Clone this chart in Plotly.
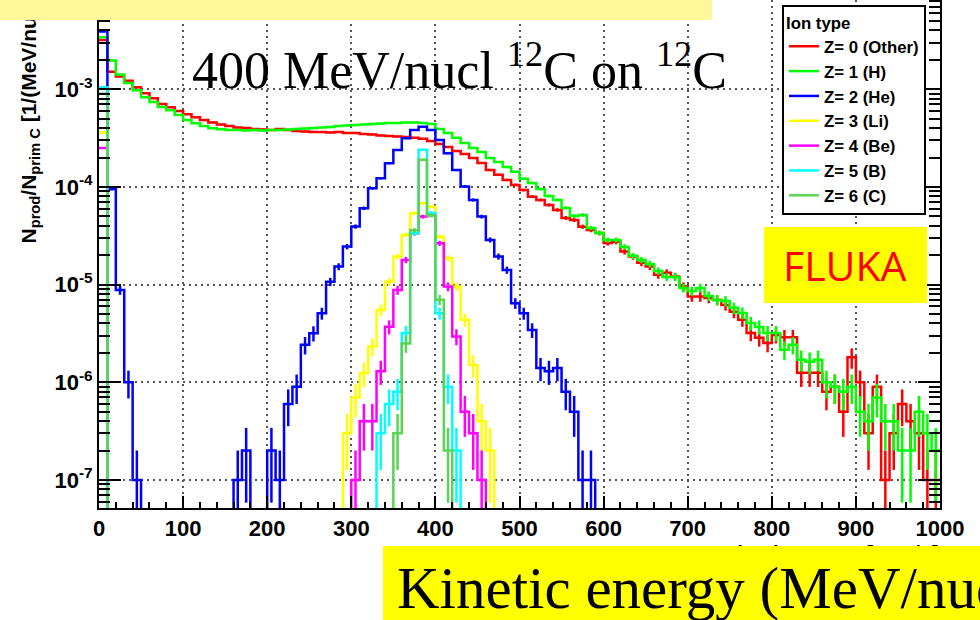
import numpy as np
import plotly.graph_objects as go

# ---------------------------------------------------------------------------
# Fragment yields per primary 12C ion, 10 MeV/nucl bins from 0 to 1000
# ---------------------------------------------------------------------------
BIN_WIDTH = 10.0
N_BINS = 100
edges = np.arange(N_BINS + 1) * BIN_WIDTH
centers = edges[:-1] + BIN_WIDTH / 2

# yield carried by a single produced fragment -> Poisson error bars
COUNT_WEIGHT = 1e-7

z0_other = [
    3.2e-3, 1.51e-3, 1.35e-3, 1.22e-3, 1.05e-3, 9.1e-4, 8.1e-4, 7.07e-4, 6.55e-4, 6.0e-4,
    5.55e-4, 5.17e-4, 4.85e-4, 4.57e-4, 4.36e-4, 4.21e-4, 4.06e-4, 4.01e-4, 3.93e-4, 3.88e-4,
    3.83e-4, 3.93e-4, 3.83e-4, 3.74e-4, 3.7e-4, 3.66e-4, 3.66e-4, 3.62e-4, 3.66e-4, 3.57e-4,
    3.57e-4, 3.49e-4, 3.45e-4, 3.37e-4, 3.33e-4, 3.29e-4, 3.25e-4, 3.18e-4, 3.11e-4, 2.96e-4,
    2.75e-4, 2.57e-4, 2.33e-4, 2.18e-4, 1.98e-4, 1.76e-4, 1.49e-4, 1.33e-4, 1.18e-4, 1.05e-4,
    9.3e-5, 7.96e-5, 7.36e-5, 6.55e-5, 5.82e-5, 4.82e-5, 4.6e-5, 3.92e-5, 3.63e-5, 3.38e-5,
    2.67e-5, 2.75e-5, 2.18e-5, 1.94e-5, 1.67e-5, 1.53e-5, 1.26e-5, 1.32e-5, 1.21e-5, 9.55e-6,
    7.54e-6, 7.54e-6, 7.3e-6, 6.97e-6, 6.2e-6, 5.26e-6, 4.36e-6, 3.2e-6, 2.85e-6, 2.53e-6,
    3.05e-6, 2.9e-6, 2.9e-6, 1.25e-6, 1.25e-6, 1.25e-6, 8e-7, 9e-7, 5e-7, 1.8e-6,
    1e-6, 3e-7, 9e-7, 1e-7, 3e-7, 6e-7, 4e-7, 3e-7, 1e-7, 1e-7,
]

z1_h = [
    3.4e-3, 1.97e-3, 1.42e-3, 1.16e-3, 9.8e-4, 8.3e-4, 7.4e-4, 6.6e-4, 6.1e-4, 5.45e-4,
    4.85e-4, 4.5e-4, 4.2e-4, 4.0e-4, 3.9e-4, 3.83e-4, 3.83e-4, 3.79e-4, 3.83e-4, 3.79e-4,
    3.83e-4, 3.83e-4, 3.87e-4, 3.92e-4, 3.97e-4, 4.01e-4, 4.06e-4, 4.11e-4, 4.2e-4, 4.26e-4,
    4.31e-4, 4.36e-4, 4.4e-4, 4.46e-4, 4.52e-4, 4.52e-4, 4.57e-4, 4.57e-4, 4.52e-4, 4.4e-4,
    3.93e-4, 3.57e-4, 3.18e-4, 2.82e-4, 2.51e-4, 2.28e-4, 1.98e-4, 1.8e-4, 1.6e-4, 1.43e-4,
    1.21e-4, 1.1e-4, 9.5e-5, 8.1e-5, 7.37e-5, 6.1e-5, 5.05e-5, 5.16e-5, 3.8e-5, 3.38e-5,
    2.87e-5, 2.87e-5, 2.43e-5, 1.97e-5, 1.79e-5, 1.63e-5, 1.38e-5, 1.2e-5, 1.2e-5, 9.25e-6,
    8.6e-6, 9.25e-6, 7.65e-6, 6.97e-6, 6.8e-6, 5.78e-6, 5.13e-6, 4.05e-6, 3.69e-6, 3.2e-6,
    3.2e-6, 2.15e-6, 2.42e-6, 1.7e-6, 1.62e-6, 1.7e-6, 1.0e-6, 9e-7, 8e-7, 9e-7,
    5e-7, 4e-7, 7e-7, 4e-7, 4e-7, 2e-7, 2e-7, 5e-7, 3e-7, 2e-7,
]

z2_he = (
    [3.9e-3, 9.5e-5, 8.8e-6, 1.0e-6, 1e-7]
    + [0.0] * 11
    + [1e-7, 2e-7, 0.0, 0.0, 2e-7, 1e-7, 6e-7, 9e-7, 2.42e-6, 3.18e-6,
       5.09e-6, 1.07e-5, 1.53e-5, 2.45e-5, 3.93e-5, 6.05e-5, 9.7e-5, 1.23e-4, 1.75e-4, 2.39e-4,
       3.15e-4, 3.83e-4, 4.14e-4, 3.83e-4, 3.03e-4, 2.21e-4, 1.49e-4, 1.01e-4, 7.36e-5, 4.97e-5,
       2.87e-5, 1.94e-5, 1.41e-5, 6.45e-6, 5.09e-6, 3.43e-6, 1.4e-6, 1.3e-6, 1.4e-6, 8e-7,
       5e-7, 1e-7, 1e-7]
    + [0.0] * 41
)

z3_li = (
    [3.6e-4]
    + [0.0] * 28
    + [3e-7, 7e-7, 1.24e-6, 2.32e-6, 5.5e-6, 1.07e-5, 1.94e-5, 3.23e-5, 5.38e-5, 6.8e-5,
       6.28e-5, 3.1e-5, 1.86e-5, 9.55e-6, 4.36e-6, 1.5e-6, 4e-7, 2e-7]
    + [0.0] * 53
)

z4_be = (
    [2.5e-4]
    + [0.0] * 29
    + [1e-7, 4e-7, 4e-7, 1.3e-6, 3.7e-6, 8.8e-6, 1.79e-5, 3.36e-5, 4.97e-5, 5.17e-5,
       2.65e-5, 9.55e-6, 2.94e-6, 5e-7, 3e-7, 1e-7]
    + [0.0] * 54
)

z5_b = (
    [1.05e-3]
    + [0.0] * 32
    + [3e-7, 6e-7, 8e-7, 3.2e-6, 3.36e-5, 2.4e-4, 5.4e-5, 5.1e-6, 9e-7, 2e-7]
    + [0.0] * 57
)

z6_c = (
    [9e-4]
    + [0.0] * 34
    + [3e-7, 2.5e-6, 3.6e-5, 1.9e-4, 5.1e-5, 7e-6, 2e-7]
    + [0.0] * 58
)

series_names = ["Z= 0 (Other)", "Z= 1 (H)", "Z= 2 (He)", "Z= 3 (Li)",
                "Z= 4 (Be)", "Z= 5 (B)", "Z= 6 (C)"]
series_values = [z0_other, z1_h, z2_he, z3_li, z4_be, z5_b, z6_c]
series_colors = ["#ff0000", "#00ff00", "#0000ff", "#ffff00",
                 "#ff00ff", "#00ffff", "#59d454"]

x_tick_vals = list(range(0, 1001, 100))
y_tick_vals = [1e-7, 1e-6, 1e-5, 1e-4, 1e-3]
y_tick_text = ["10<sup>-7</sup>", "10<sup>-6</sup>", "10<sup>-5</sup>",
               "10<sup>-4</sup>", "10<sup>-3</sup>"]

# ---------------------------------------------------------------------------
# Figure geometry (pixels)
# ---------------------------------------------------------------------------
W, H = 980, 620
L, R, T, B = 99, 40, 0, 112
PW, PH = W - L - R, H - T - B
Y_LOG_RANGE = [-7.287, -2.086]
EMPTY_FLOOR = 1e-12   # empty bins fall below the visible log range


def px_x(px):
    return (px - L) / PW


def px_y(py):
    return (H - B - py) / PH


BOLD = "Liberation Sans"
SERIF = "Liberation Serif"

fig = go.Figure()

for name, vals, color in zip(series_names, series_values, series_colors):
    v = np.asarray(vals, dtype=float)
    v_line = np.where(v > 0, v, EMPTY_FLOOR)
    # histogram outline drawn on the bin edges
    fig.add_trace(go.Scatter(
        x=edges, y=np.append(v_line, v_line[-1]),
        mode="lines", line=dict(color=color, width=2.5, shape="hv"),
        name=name, legendgroup=name, hoverinfo="skip",
    ))
    # statistical error bars at bin centres
    filled = v > 0
    fig.add_trace(go.Scatter(
        x=centers[filled], y=v[filled], mode="markers",
        marker=dict(size=2, color=color),
        error_y=dict(type="data", array=np.sqrt(v[filled] * COUNT_WEIGHT),
                     color=color, thickness=2.5, width=0),
        showlegend=False, legendgroup=name, hoverinfo="skip",
    ))

minor_y = [k * 10.0 ** e for e in range(-8, -2) for k in range(2, 10)]

fig.update_layout(
    width=W, height=H,
    margin=dict(l=L, r=R, t=T, b=B),
    paper_bgcolor="white", plot_bgcolor="white",
    showlegend=True,
    xaxis=dict(
        range=[0, 1000], tickmode="array", tickvals=x_tick_vals,
        ticktext=[str(v) for v in x_tick_vals],
        ticks="inside", ticklen=12, tickwidth=1.5, tickcolor="black",
        showline=True, linecolor="black", linewidth=2, mirror=False,
        showgrid=True, gridcolor="#555555", gridwidth=1.5, griddash="2px,4px",
        zeroline=False,
        minor=dict(ticks="inside", ticklen=6, tickwidth=1.5, tickcolor="black",
                   dtick=20, tick0=0, showgrid=False),
        tickfont=dict(family=BOLD, size=22, color="black", weight="bold"),
    ),
    yaxis=dict(
        type="log", range=Y_LOG_RANGE, tickmode="array",
        tickvals=y_tick_vals, ticktext=y_tick_text,
        ticks="inside", ticklen=22, tickwidth=1.5, tickcolor="black",
        showline=True, linecolor="black", linewidth=2, mirror="ticks",
        showgrid=True, gridcolor="#555555", gridwidth=1.5, griddash="2px,4px",
        zeroline=False,
        minor=dict(ticks="inside", ticklen=11, tickwidth=1.5, tickcolor="black",
                   tickmode="array", tickvals=minor_y, showgrid=False),
        tickfont=dict(family=BOLD, size=22, color="black", weight="bold"),
    ),
    legend=dict(
        x=px_x(782), y=px_y(5), xanchor="left", yanchor="top",
        bgcolor="white", bordercolor="black", borderwidth=2,
        font=dict(family=BOLD, size=16.8, color="black", weight="bold"),
        title=dict(text="Ion type",
                   font=dict(family=BOLD, size=16.8, color="black", weight="bold")),
        traceorder="normal", tracegroupgap=0, itemwidth=30,
        entrywidth=112, entrywidthmode="pixels",
    ),
)

annotations = [
    # axis titles
    dict(text="N<sub>prod</sub>/N<sub>prim C</sub> [1/(MeV/nucl)]",
         x=px_x(29), y=px_y(246), xanchor="center", yanchor="bottom",
         textangle=-90,
         font=dict(family=BOLD, size=21, color="black", weight="bold")),
    dict(text="Kinetic energy [MeV/u]",
         x=px_x(941), y=px_y(540), xanchor="right", yanchor="top",
         font=dict(family=BOLD, size=20, color="black", weight="bold")),
    # highlight boxes
    dict(text=" ", x=px_x(0), y=px_y(0), xanchor="left", yanchor="top",
         width=712, height=20, bgcolor="#fff79a", borderpad=0, borderwidth=0),
    dict(text=" ", x=px_x(383), y=px_y(546), xanchor="left", yanchor="top",
         width=640, height=90, bgcolor="#ffff00", borderpad=0, borderwidth=0),
    dict(text="Kinetic energy (MeV/nucl)",
         x=px_x(395), y=px_y(588), xanchor="left", yanchor="middle",
         font=dict(family=SERIF, size=59, color="black")),
    dict(text="400 MeV/nucl <sup>12</sup>C on <sup>12</sup>C",
         x=px_x(190), y=px_y(66), xanchor="left", yanchor="middle",
         font=dict(family=SERIF, size=52, color="black")),
    dict(text="FLUKA", x=px_x(845), y=px_y(265), xanchor="center", yanchor="middle",
         font=dict(family="Open Sans", size=41, color="#ff0000")),
]
for a in annotations:
    a.update(xref="paper", yref="paper", showarrow=False)
fig.update_layout(annotations=annotations)

fig.add_shape(type="rect", xref="paper", yref="paper",
              x0=px_x(764), x1=px_x(927), y0=px_y(303), y1=px_y(227),
              fillcolor="#ffff00", line=dict(width=0), layer="above")

fig.write_html("out.html")
